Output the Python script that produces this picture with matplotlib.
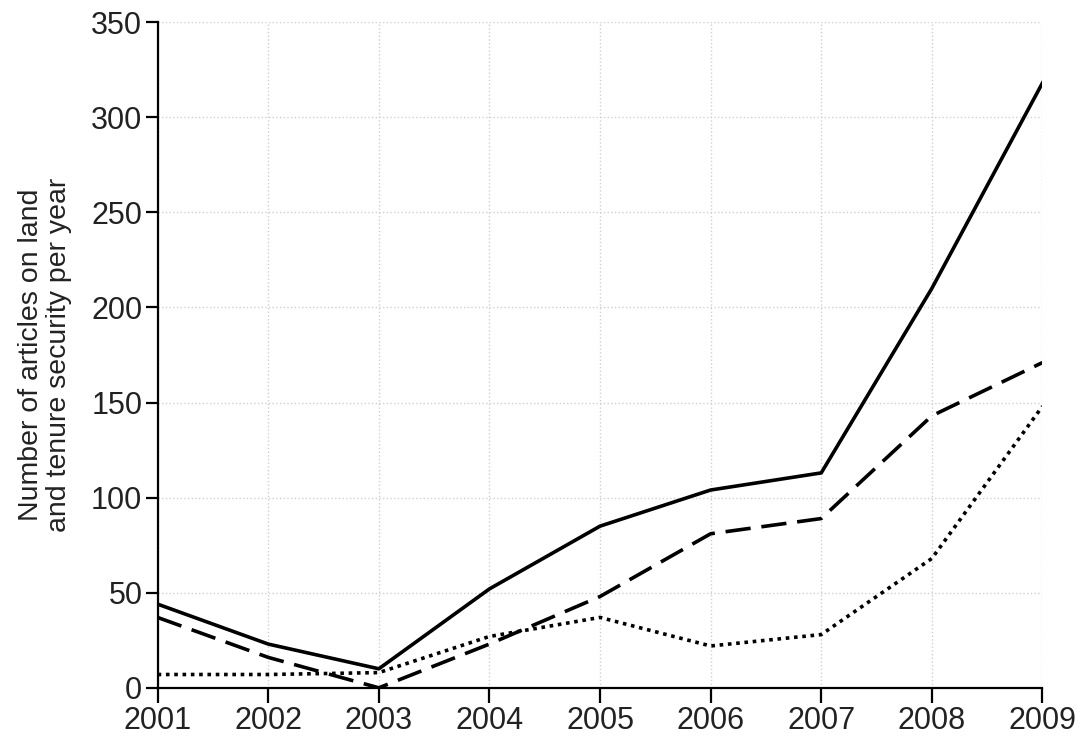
import matplotlib
matplotlib.use("Agg")
import matplotlib.pyplot as plt

years = [2001, 2002, 2003, 2004, 2005, 2006, 2007, 2008, 2009]
solid = [44, 23, 10, 52, 85, 104, 113, 210, 318]
dashed = [37, 16, 0, 23, 48, 81, 89, 143, 171]
dotted = [7, 7, 8, 27, 37, 22, 28, 68, 148]

plt.rcParams['font.family'] = ['Liberation Sans', 'DejaVu Sans']

fig = plt.figure(figsize=(10.87, 7.38), dpi=100)
ax = fig.add_axes([0.145, 0.068, 0.814, 0.902])

ax.plot(years, solid, color='black', lw=2.6, ls='-')
ax.plot(years, dashed, color='black', lw=2.6, ls=(0, (7, 3)))
ax.plot(years, dotted, color='black', lw=2.6, ls=(0, (1, 1.3)))

ax.set_xlim(2001, 2009)
ax.set_ylim(0, 350)
ax.set_xticks(years)
ax.set_yticks(range(0, 351, 50))
ax.grid(True, color='#d0d0d0', ls=':', lw=1)
ax.set_axisbelow(True)

for s in ['top', 'right']:
    ax.spines[s].set_visible(False)
for s in ['left', 'bottom']:
    ax.spines[s].set_linewidth(1.6)

ax.tick_params(axis='x', direction='out', length=11, width=1.6, pad=2,
               labelsize=22, colors='black', labelcolor='#222222')
ax.tick_params(axis='y', direction='out', length=9, width=1.6, pad=2,
               labelsize=22, colors='black', labelcolor='#222222')
ax.set_ylabel('Number of articles on land\nand tenure security per year',
              fontsize=20.5, color='#222222', labelpad=14, linespacing=1.08)

fig.savefig('out.png', dpi=100)
